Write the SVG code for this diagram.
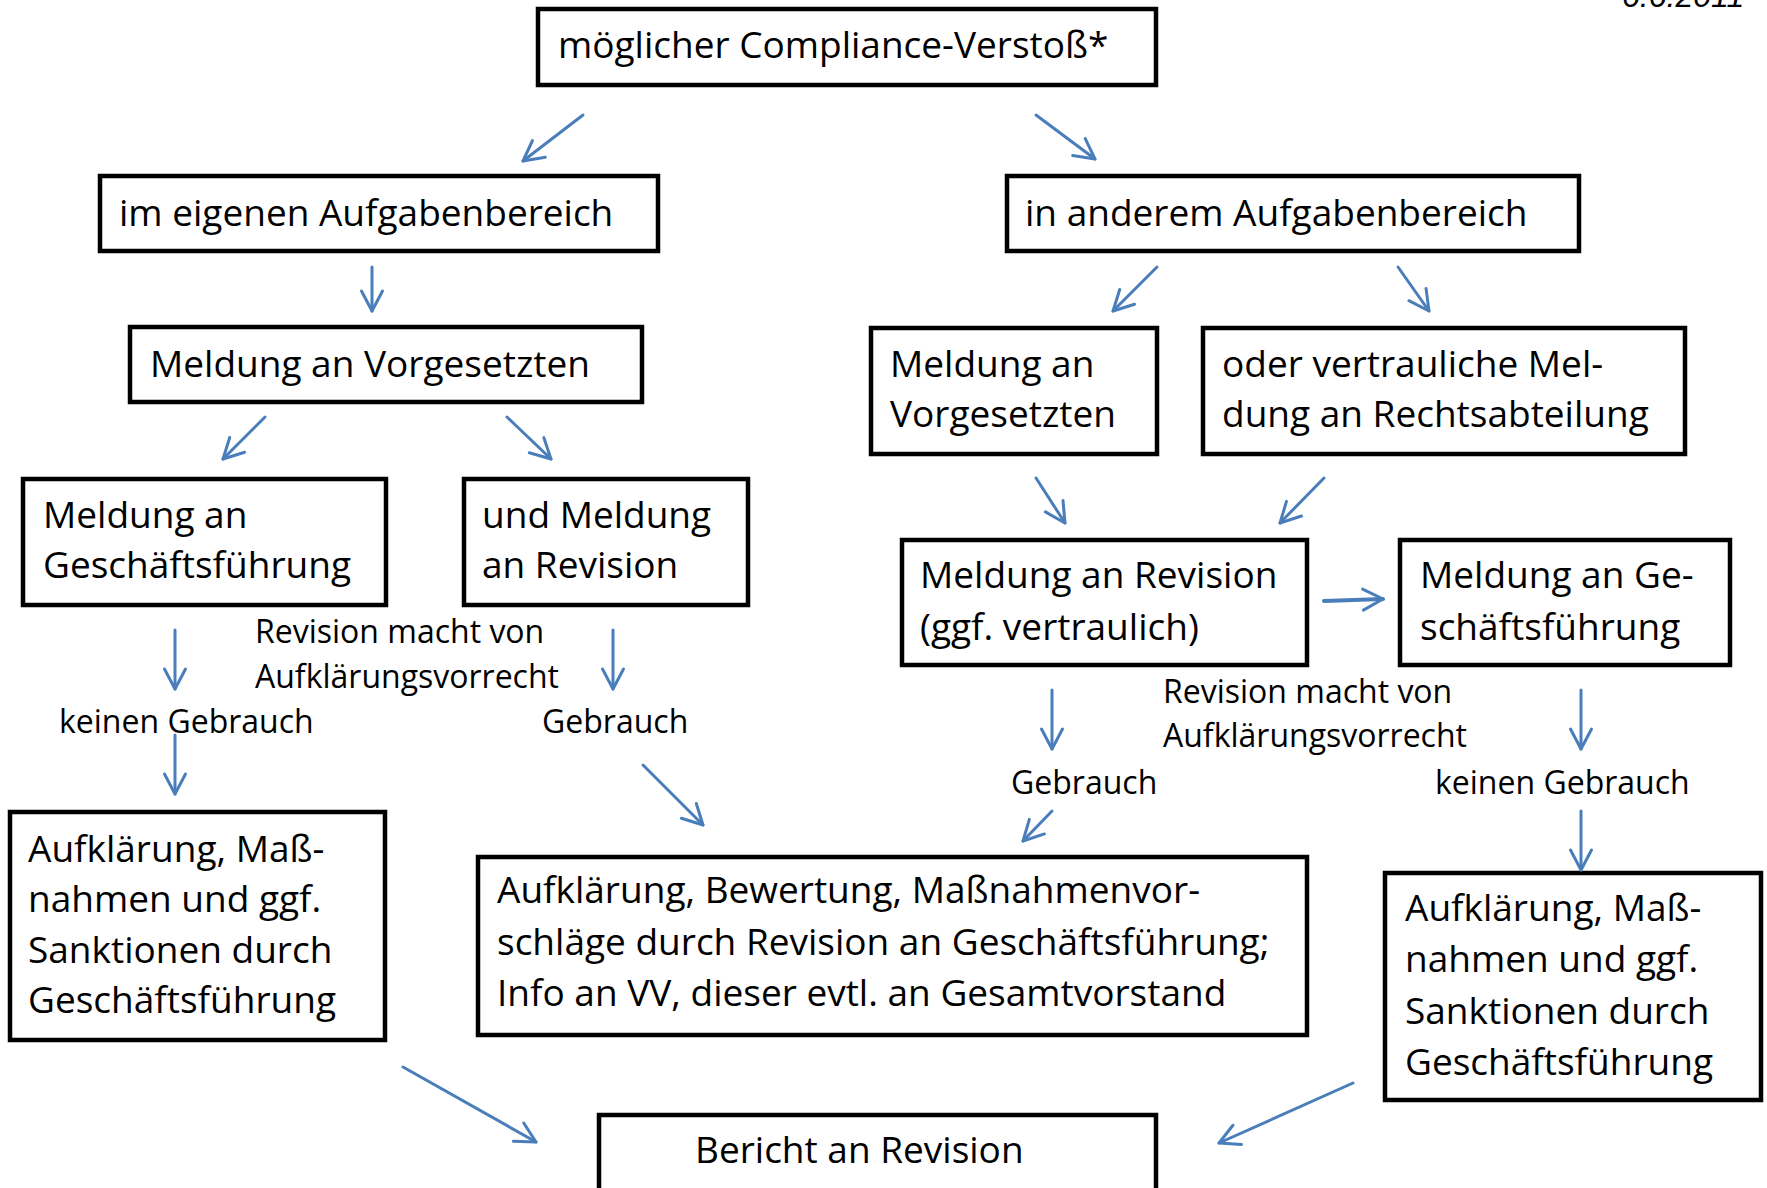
<svg xmlns="http://www.w3.org/2000/svg" width="1767" height="1188" viewBox="0 0 1767 1188">
<style>
.box{fill:#fff;stroke:#000;stroke-width:4.5}
.t{font-family:"Open Sans","Noto Sans",sans-serif;font-size:37px;fill:#000}
.l{font-family:"Open Sans","Noto Sans",sans-serif;font-size:32px;fill:#000}
.c{fill:none;stroke:#4A7EBB;stroke-width:3;stroke-linecap:round}
</style>
<defs>
<marker id="ah" markerUnits="userSpaceOnUse" markerWidth="30" markerHeight="30" viewBox="-25 -15 30 30" refX="0" refY="0" orient="auto">
<path d="M-20,-10.5 L0,0 L-20,10.5" fill="none" stroke="#4A7EBB" stroke-width="3" stroke-linecap="round" stroke-linejoin="round"/>
</marker>
</defs>
<rect width="1767" height="1188" fill="#fff"/>
<text x="1622" y="7" style="font-family:'Liberation Sans',Arial,sans-serif;font-size:32px;font-style:italic">6.6.2011</text>
<g id="n1"><rect class="box" x="538" y="9" width="618" height="76"/><text class="t" x="558" y="58">möglicher Compliance-Verstoß*</text></g>
<g id="n2"><rect class="box" x="100" y="176" width="558" height="75"/><text class="t" x="119" y="226">im eigenen Aufgabenbereich</text></g>
<g id="n3"><rect class="box" x="1007" y="176" width="572" height="75"/><text class="t" x="1025" y="226">in anderem Aufgabenbereich</text></g>
<g id="n4"><rect class="box" x="130" y="327" width="512" height="75"/><text class="t" x="150" y="377">Meldung an Vorgesetzten</text></g>
<g id="n5"><rect class="box" x="871" y="328" width="286" height="126"/><text class="t" x="890" y="377">Meldung an</text><text class="t" x="890" y="427">Vorgesetzten</text></g>
<g id="n6"><rect class="box" x="1203" y="328" width="482" height="126"/><text class="t" x="1222" y="377">oder vertrauliche Mel-</text><text class="t" x="1222" y="427">dung an Rechtsabteilung</text></g>
<g id="n7"><rect class="box" x="23" y="479" width="363" height="126"/><text class="t" x="43" y="528">Meldung an</text><text class="t" x="43" y="578">Geschäftsführung</text></g>
<g id="n8"><rect class="box" x="464" y="479" width="284" height="126"/><text class="t" x="482" y="528">und Meldung</text><text class="t" x="482" y="578">an Revision</text></g>
<g id="n9"><rect class="box" x="902" y="540" width="405" height="125"/><text class="t" x="920" y="588">Meldung an Revision</text><text class="t" x="920" y="640">(ggf. vertraulich)</text></g>
<g id="n10"><rect class="box" x="1400" y="540" width="330" height="125"/><text class="t" x="1420" y="588">Meldung an Ge-</text><text class="t" x="1420" y="640">schäftsführung</text></g>
<g id="n11"><rect class="box" x="10" y="812" width="375" height="228"/><text class="t" x="28" y="862">Aufklärung, Maß-</text><text class="t" x="28" y="912">nahmen und ggf.</text><text class="t" x="28" y="963">Sanktionen durch</text><text class="t" x="28" y="1013">Geschäftsführung</text></g>
<g id="n12"><rect class="box" x="478" y="857" width="829" height="178"/><text class="t" x="497" y="903">Aufklärung, Bewertung, Maßnahmenvor-</text><text class="t" x="497" y="955">schläge durch Revision an Geschäftsführung;</text><text class="t" x="497" y="1006">Info an VV, dieser evtl. an Gesamtvorstand</text></g>
<g id="n13"><rect class="box" x="1385" y="873" width="376" height="227"/><text class="t" x="1405" y="921">Aufklärung, Maß-</text><text class="t" x="1405" y="972">nahmen und ggf.</text><text class="t" x="1405" y="1024">Sanktionen durch</text><text class="t" x="1405" y="1075">Geschäftsführung</text></g>
<g id="n14"><rect class="box" x="599" y="1115" width="557" height="90"/><text class="t" x="695" y="1163">Bericht an Revision</text></g>
<g id="labels">
<text class="l" x="255" y="643">Revision macht von</text>
<text class="l" x="255" y="688">Aufklärungsvorrecht</text>
<text class="l" x="59" y="733">keinen Gebrauch</text>
<text class="l" x="542" y="733">Gebrauch</text>
<text class="l" x="1163" y="703">Revision macht von</text>
<text class="l" x="1163" y="747">Aufklärungsvorrecht</text>
<text class="l" x="1011" y="794">Gebrauch</text>
<text class="l" x="1435" y="794">keinen Gebrauch</text>
</g>
<g id="connectors">
<line class="c" marker-end="url(#ah)" x1="583" y1="115" x2="523" y2="161"/>
<line class="c" marker-end="url(#ah)" x1="1036" y1="115" x2="1095" y2="159"/>
<line class="c" marker-end="url(#ah)" x1="372" y1="267" x2="372" y2="311"/>
<line class="c" marker-end="url(#ah)" x1="265" y1="417" x2="223" y2="459"/>
<line class="c" marker-end="url(#ah)" x1="507" y1="417" x2="551" y2="459"/>
<line class="c" marker-end="url(#ah)" x1="1157" y1="267" x2="1113" y2="311"/>
<line class="c" marker-end="url(#ah)" x1="1398" y1="267" x2="1429" y2="311"/>
<line class="c" marker-end="url(#ah)" x1="1036" y1="478" x2="1065" y2="523"/>
<line class="c" marker-end="url(#ah)" x1="1324" y1="478" x2="1280" y2="523"/>
<line class="c" marker-end="url(#ah)" x1="1324" y1="601" x2="1383" y2="599" style="stroke-width:4"/>
<line class="c" marker-end="url(#ah)" x1="175" y1="630" x2="175" y2="689"/>
<line class="c" marker-end="url(#ah)" x1="175" y1="735" x2="175" y2="794"/>
<line class="c" marker-end="url(#ah)" x1="613" y1="630" x2="613" y2="689"/>
<line class="c" marker-end="url(#ah)" x1="643" y1="765" x2="703" y2="825"/>
<line class="c" marker-end="url(#ah)" x1="1052" y1="690" x2="1052" y2="749"/>
<line class="c" marker-end="url(#ah)" x1="1052" y1="811" x2="1023" y2="841"/>
<line class="c" marker-end="url(#ah)" x1="1581" y1="690" x2="1581" y2="749"/>
<line class="c" marker-end="url(#ah)" x1="1581" y1="811" x2="1581" y2="870"/>
<line class="c" marker-end="url(#ah)" x1="403" y1="1067" x2="536" y2="1142"/>
<line class="c" marker-end="url(#ah)" x1="1353" y1="1083" x2="1219" y2="1143"/>
</g>
</svg>
